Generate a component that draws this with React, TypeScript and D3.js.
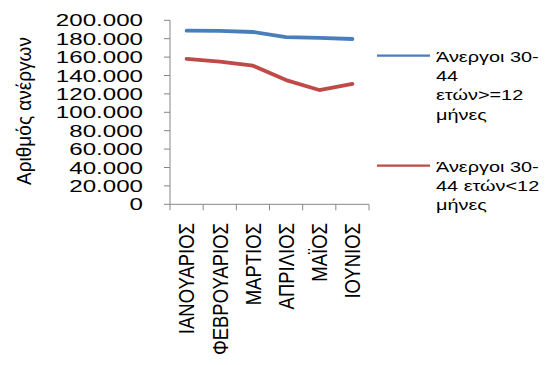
import React from "react";
import * as d3 from "d3";

const categories = ["ΙΑΝΟΥΑΡΙΟΣ", "ΦΕΒΡΟΥΑΡΙΟΣ", "ΜΑΡΤΙΟΣ", "ΑΠΡΙΛΙΟΣ", "ΜΑΪΟΣ", "ΙΟΥΝΙΟΣ"];
const longTerm = [188700, 188500, 187300, 181800, 180800, 179700];
const shortTerm = [158000, 155000, 150700, 135000, 124200, 130800];
const yTicks = [0, 20000, 40000, 60000, 80000, 100000, 120000, 140000, 160000, 180000, 200000];
const seriesNames = [
  ["Άνεργοι 30-", "44", "ετών>=12", "μήνες"],
  ["Άνεργοι 30-", "44 ετών<12", "μήνες"],
];
const colors = ["#4A7EBB", "#BE4B48"];
const yTitle = "Αριθμός ανέργων";

const W = 547, H = 365;
const left = 170, right = 369, top = 20.3, bottom = 204.3;

const locale = d3.formatLocale({ decimal: ",", thousands: ".", grouping: [3], currency: ["", "€"] });
const fmt = locale.format(",");

export default function App() {
  const x = d3.scaleBand<string>().domain(categories).range([left, right]);
  const y = d3.scaleLinear().domain([0, 200000]).range([bottom, top]);
  const line = d3
    .line<number>()
    .x((_, i) => (x(categories[i]) as number) + x.bandwidth() / 2)
    .y((d) => y(d));
  const axisColor = "#868686";
  const font = "'Liberation Sans', Arial, sans-serif";
  const series = [longTerm, shortTerm];
  const legendY = [55.7, 165.7];
  return (
    <svg width={W} height={H} style={{ position: "absolute", left: 0, top: 0, background: "#fff" }} fontFamily={font}>
      {/* y axis */}
      <line x1={left} x2={left} y1={top} y2={bottom} stroke={axisColor} strokeWidth={1} />
      {yTicks.map((t) => (
        <g key={t}>
          <line x1={left - 6} x2={left} y1={y(t)} y2={y(t)} stroke={axisColor} />
          <text
            transform={`translate(143,${y(t)}) scale(1.42,1)`}
            textAnchor="end"
            dy="0.36em"
            fontSize={17}
            fill="#000"
          >
            {fmt(t)}
          </text>
        </g>
      ))}
      {/* x axis */}
      <line x1={left} x2={right} y1={bottom} y2={bottom} stroke={axisColor} />
      {categories.map((c, i) => (
        <line key={"t" + i} x1={x(c)} x2={x(c)} y1={bottom} y2={bottom + 6} stroke={axisColor} />
      ))}
      <line x1={right} x2={right} y1={bottom} y2={bottom + 6} stroke={axisColor} />
      {categories.map((c) => (
        <text
          key={c}
          transform={`translate(${(x(c) as number) + x.bandwidth() / 2},223) scale(1.18,1) rotate(-90)`}
          textAnchor="end"
          dy="0.36em"
          fontSize={18.5}
          fill="#000"
        >
          {c}
        </text>
      ))}
      <text
        transform={`translate(23,111) scale(1.1,1) rotate(-90)`}
        textAnchor="middle"
        dy="0.36em"
        fontSize={19}
        fill="#000"
      >
        {yTitle}
      </text>
      {series.map((s, i) => (
        <path
          key={i}
          d={line(s) as string}
          fill="none"
          stroke={colors[i]}
          strokeWidth={3.8}
          strokeLinejoin="round"
          strokeLinecap="round"
        />
      ))}
      {seriesNames.map((lines, i) => (
        <g key={i}>
          <line x1={377} x2={430} y1={legendY[i]} y2={legendY[i]} stroke={colors[i]} strokeWidth={2.2} />
          {lines.map((l, j) => (
            <text
              key={j}
              transform={`translate(436,${legendY[i] + 6 + j * 19.3}) scale(1.42,1)`}
              fontSize={14}
              fill="#000"
            >
              {l}
            </text>
          ))}
        </g>
      ))}
    </svg>
  );
}
